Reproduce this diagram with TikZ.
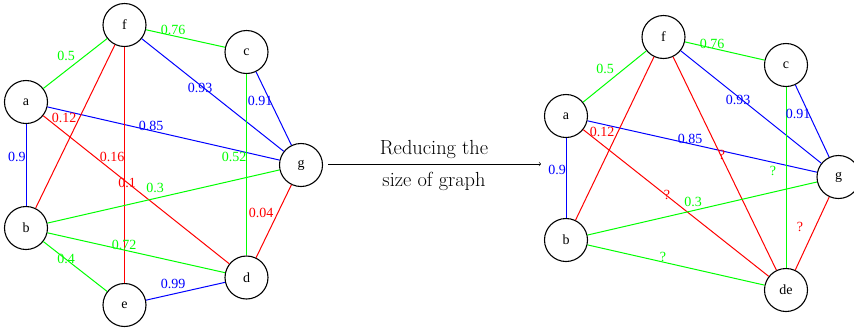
\documentclass[tikz,border=0pt]{standalone}
\usepackage{fontspec}
\newfontfamily\gv{Liberation Serif}
\begin{document}
\begin{tikzpicture}[x=1pt,y=-1pt,
  vtx/.style={circle,draw=black,line width=1.1pt,minimum size=43pt,inner sep=0pt,font=\gv\fontsize{14}{16}\selectfont},
  lbl/.style={inner sep=0pt,font=\gv\fontsize{14}{16}\selectfont},
  gE/.style={draw=green,line width=1pt},
  bE/.style={draw=blue,line width=1pt},
  rE/.style={draw=red,line width=1pt},
  gL/.style={lbl,text=green},
  bL/.style={lbl,text=blue},
  rL/.style={lbl,text=red},
  mid/.style={inner sep=0pt,font=\fontsize{20.4}{24}\selectfont,anchor=base}]
\useasboundingbox (0,0) rectangle (854,333);
\begin{scope}
\clip (0,0) rectangle (854,333);
% left graph
\node[vtx] (f) at (124.5,25) {f};
\node[vtx] (c) at (246.5,52) {c};
\node[vtx] (a) at (26,102) {a};
\node[vtx] (g) at (301,165) {g};
\node[vtx] (b) at (26,228) {b};
\node[vtx] (e) at (124.5,305) {e};
\node[vtx] (d) at (246.5,277.5) {d};
\draw[gE] (a) -- (f);
\draw[gE] (f) -- (c);
\draw[bE] (f) -- (g);
\draw[bE] (c) -- (g);
\draw[bE] (a) -- (g);
\draw[bE] (a) -- (b);
\draw[rE] (a) -- (d);
\draw[rE] (f) -- (b);
\draw[rE] (f) -- (e);
\draw[gE] (c) -- (d);
\draw[rE] (g) -- (d);
\draw[gE] (b) -- (g);
\draw[gE] (b) -- (d);
\draw[gE] (b) -- (e);
\draw[bE] (e) -- (d);
\node[gL] (l1) at (66,56) {0.5};
\node[gL] (l2) at (173,30) {0.76};
\node[bL] (l3) at (200,88) {0.93};
\node[bL] (l4) at (260,101) {0.91};
\node[bL] (l5) at (151,126) {0.85};
\node[bL] (l6) at (17,157) {0.9};
\node[rL] (l7) at (64,118) {0.12};
\node[rL] (l8) at (112,157) {0.16};
\node[gL] (l9) at (234,157) {0.52};
\node[rL] (l10) at (127,183) {0.1};
\node[gL] (l11) at (155,188) {0.3};
\node[rL] (l12) at (261,213) {0.04};
\node[gL] (l13) at (124,245) {0.72};
\node[gL] (l14) at (66,259) {0.4};
\node[bL] (l15) at (173,284) {0.99};
% arrow
\coordinate (s) at (328,164);
\coordinate (t) at (541,164);
\draw[->,line width=0.6pt] (s) -- (t);
\node[mid] (r1) at (434,154) {Reducing the};
\node[mid] (r2) at (434,186) {size of graph};
% right graph
\node[vtx] (F) at (663.5,37) {f};
\node[vtx] (C) at (786,65) {c};
\node[vtx] (A) at (566,116) {a};
\node[vtx] (G) at (838.5,177) {g};
\node[vtx] (B) at (566,240) {b};
\node[vtx] (DE) at (786,290) {de};
\draw[gE] (A) -- (F);
\draw[gE] (F) -- (C);
\draw[bE] (F) -- (G);
\draw[bE] (C) -- (G);
\draw[bE] (A) -- (G);
\draw[bE] (A) -- (B);
\draw[rE] (A) -- (DE);
\draw[rE] (F) -- (B);
\draw[rE] (F) -- (DE);
\draw[gE] (C) -- (DE);
\draw[rE] (G) -- (DE);
\draw[gE] (B) -- (G);
\draw[gE] (B) -- (DE);
\node[gL] (m1) at (605,69) {0.5};
\node[gL] (m2) at (712,44) {0.76};
\node[bL] (m3) at (738,100) {0.93};
\node[bL] (m4) at (798,114) {0.91};
\node[bL] (m5) at (690,139) {0.85};
\node[bL] (m6) at (557,170) {0.9};
\node[rL] (m7) at (602,132) {0.12};
\node[rL] (m8) at (722,155) {?};
\node[gL] (m9) at (773,171) {?};
\node[rL] (m10) at (667,195) {?};
\node[gL] (m11) at (693,202) {0.3};
\node[rL] (m12) at (800,227) {?};
\node[gL] (m13) at (663,257) {?};
\end{scope}
\end{tikzpicture}
\end{document}
